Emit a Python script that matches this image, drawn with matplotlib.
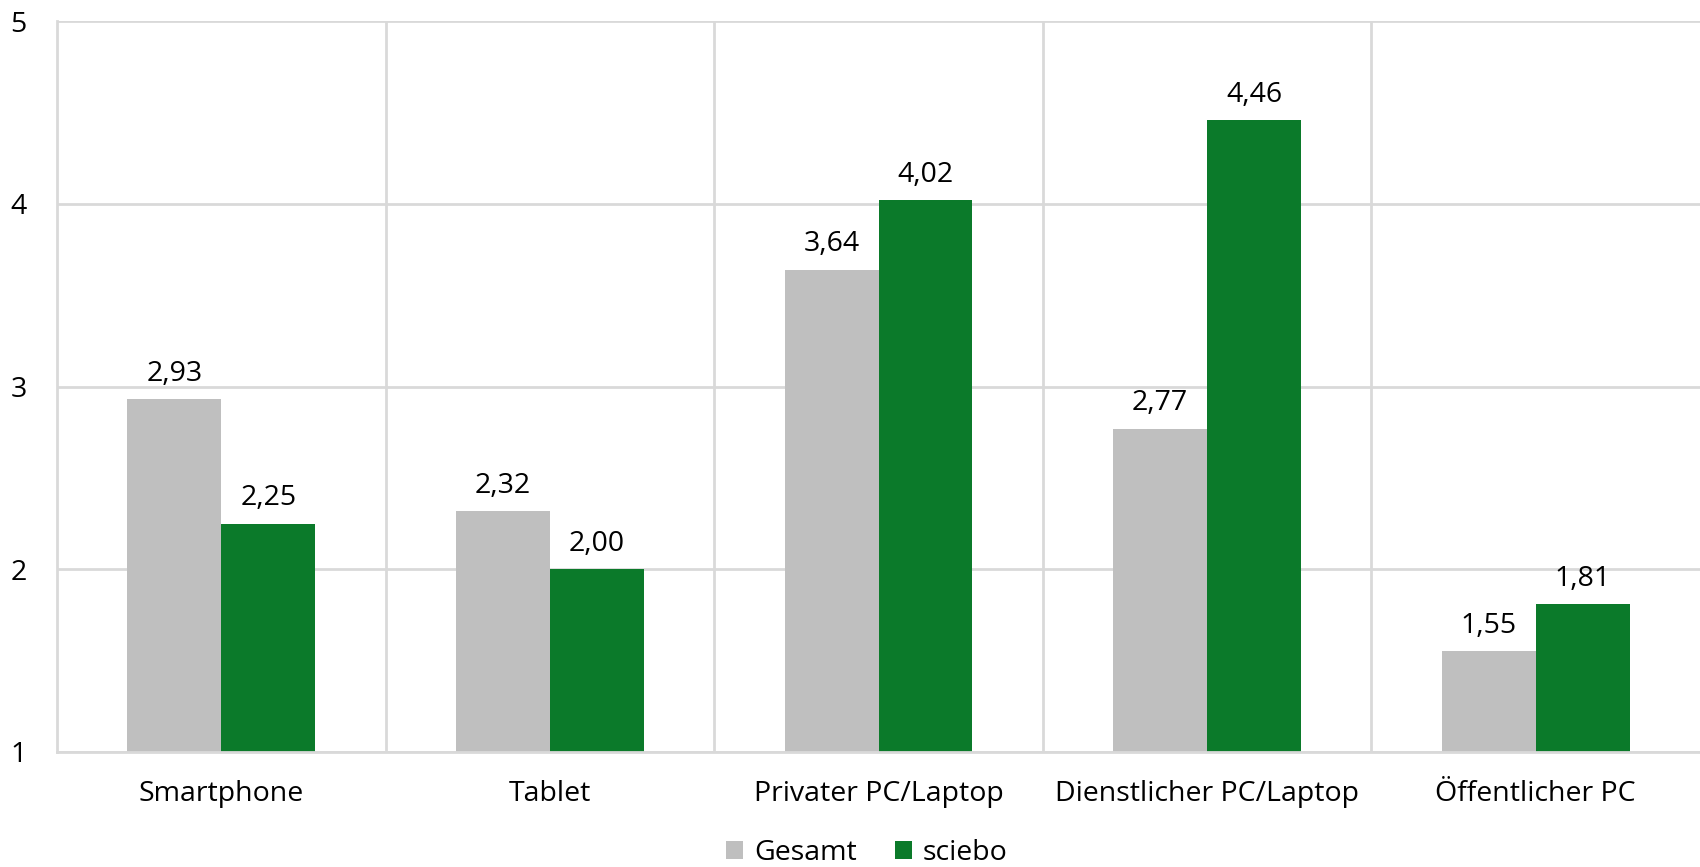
import matplotlib
matplotlib.use("Agg")
import matplotlib.pyplot as plt
import numpy as np

categories = ["Smartphone", "Tablet", "Privater PC/Laptop", "Dienstlicher PC/Laptop", "Öffentlicher PC"]
gesamt = [2.93, 2.32, 3.64, 2.77, 1.55]
sciebo = [2.25, 2.00, 4.02, 4.46, 1.81]
yticks = [1, 2, 3, 4, 5]

plt.rcParams['font.family'] = ['Open Sans', 'DejaVu Sans']
fs = 20.5

fig = plt.figure(figsize=(17, 8.67), dpi=100)
ax = fig.add_axes([57 / 1700, 1 - 752 / 867, 1 - 57 / 1700, (752 - 21) / 867])

x = np.arange(len(categories))
w = 0.286
grid_c = "#D9D9D9"
b1 = ax.bar(x - w / 2, np.array(gesamt) - 1, w, bottom=1, color="#BFBFBF", label="Gesamt", zorder=2)
b2 = ax.bar(x + w / 2, np.array(sciebo) - 1, w, bottom=1, color="#0B7A2A", label="sciebo", zorder=2)

for bars, vals in ((b1, gesamt), (b2, sciebo)):
    for r, v in zip(bars, vals):
        ax.annotate(f"{v:.2f}".replace(".", ","), (r.get_x() + r.get_width() / 2, v),
                    xytext=(0, 8), textcoords="offset points", ha="center", va="bottom",
                    fontsize=fs, color="#000000")

ax.set_xlim(-0.5, len(categories) - 0.5)
ax.set_ylim(1, 5)
ax.set_yticks(yticks)
ax.set_yticklabels([str(t) for t in yticks], fontsize=fs)
ax.set_xticks(x)
ax.set_xticklabels(categories, fontsize=fs)
ax.tick_params(length=0)
ax.tick_params(axis="y", pad=22)
ax.tick_params(axis="x", pad=20)

ax.yaxis.grid(True, color=grid_c, linewidth=2, zorder=0)
for b in np.arange(0.5, len(categories) - 0.5, 1):
    ax.axvline(b, color=grid_c, linewidth=2, zorder=0)
for s in ("top", "right"):
    ax.spines[s].set_visible(False)
ax.spines["left"].set_color(grid_c)
ax.spines["left"].set_linewidth(2)
ax.spines["bottom"].set_color(grid_c)
ax.spines["bottom"].set_linewidth(2)
ax.set_axisbelow(True)

fig.legend(handles=[b1, b2], loc="center", bbox_to_anchor=(0.51, 1 - 853 / 867), ncol=2,
           frameon=False, fontsize=fs, handlelength=0.6, handleheight=0.6, handletextpad=0.4,
           columnspacing=1.3)

fig.savefig("out.png", dpi=100)
